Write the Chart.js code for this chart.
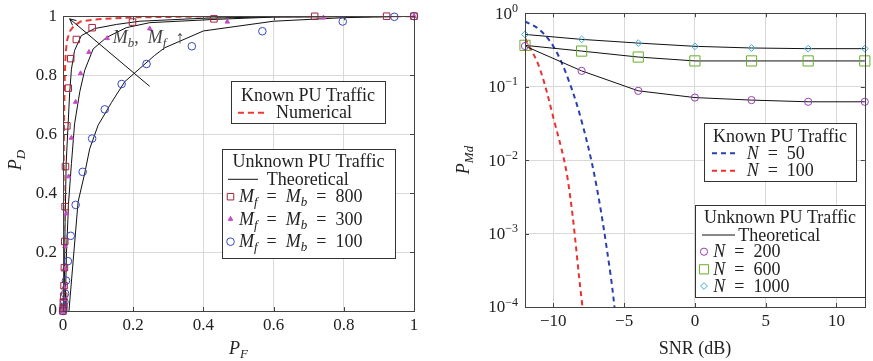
<!DOCTYPE html>
<html>
<head>
<meta charset="utf-8">
<script src="https://cdn.jsdelivr.net/npm/chart.js@4.4.1/dist/chart.umd.min.js"></script>
<style>
  body { margin: 0; background: #fff; }
  canvas { position: absolute; top: 0; }
  #roc { left: 0; }
  #pmd { left: 430px; }
</style>
</head>
<body>
<canvas id="roc" width="430" height="361"></canvas>
<canvas id="pmd" width="443" height="361"></canvas>
<script>
// ---- left: ROC, P_D vs P_F ----
const rocTicks = [0, 0.2, 0.4, 0.6, 0.8, 1];
const rocTickLabels = ['0', '0.2', '0.4', '0.6', '0.8', '1'];

// known PU traffic, numerical
const numPF = [0, 0.001, 0.002, 0.003, 0.005, 0.008, 0.012, 0.02, 0.03, 0.05, 0.1, 0.2, 0.4, 0.7, 1];
const numPD = [0, 0.25, 0.5, 0.65, 0.8, 0.88, 0.92, 0.95, 0.965, 0.982, 0.99, 0.996, 0.999, 1, 1];

// unknown PU traffic, theoretical
const th800PF = [0.003, 0.006, 0.009, 0.014, 0.019, 0.024, 0.033, 0.052, 0.09, 0.152, 0.219, 0.4, 0.6, 1];
const th800PD = [0, 0.3, 0.5, 0.62, 0.74, 0.82, 0.884, 0.934, 0.958, 0.972, 0.983, 0.993, 0.998, 1];
const th300PF = [0.006, 0.01, 0.016, 0.024, 0.033, 0.048, 0.062, 0.086, 0.124, 0.18, 0.247, 0.43, 0.6, 1];
const th300PD = [0, 0.2, 0.37, 0.5, 0.635, 0.745, 0.817, 0.889, 0.928, 0.961, 0.978, 0.989, 0.997, 1];
const th100PF = [0.017, 0.043, 0.062, 0.076, 0.1, 0.138, 0.176, 0.219, 0.261, 0.29, 0.4, 0.6, 0.8, 1];
const th100PD = [0, 0.37, 0.468, 0.55, 0.63, 0.707, 0.778, 0.823, 0.867, 0.893, 0.95, 0.983, 0.995, 1];

// unknown PU traffic, simulated
const sim800PF = [0, 0.001, 0.001, 0.002, 0.003, 0.004, 0.005, 0.006, 0.007, 0.011, 0.015, 0.022, 0.038, 0.083, 0.198, 0.43, 0.717, 0.922, 1];
const sim800PD = [0, 0.01, 0.03, 0.05, 0.086, 0.147, 0.236, 0.354, 0.49, 0.628, 0.756, 0.856, 0.921, 0.961, 0.98, 0.991, 0.9997, 1, 1];
const sim300PF = [0, 0.001, 0.002, 0.003, 0.004, 0.0057, 0.0095, 0.016, 0.024, 0.036, 0.05, 0.074, 0.126, 0.247, 0.468, 0.742, 1];
const sim300PD = [0, 0.01, 0.04, 0.08, 0.143, 0.219, 0.33, 0.456, 0.587, 0.709, 0.806, 0.878, 0.925, 0.958, 0.981, 0.995, 1];
const sim100PF = [0, 0.001, 0.002, 0.004, 0.006, 0.0086, 0.014, 0.022, 0.036, 0.056, 0.083, 0.119, 0.167, 0.238, 0.367, 0.568, 0.797, 0.944, 1];
const sim100PD = [0, 0.005, 0.015, 0.031, 0.059, 0.103, 0.169, 0.255, 0.36, 0.472, 0.585, 0.684, 0.77, 0.838, 0.898, 0.949, 0.982, 0.998, 1];

// ---- right: P_Md vs SNR ----
const snrTicks = [-10, -5, 0, 5, 10];
const snrTickLabels = ['\u221210', '\u22125', '0', '5', '10'];
const pmdTicks = [1e-4, 1e-3, 1e-2, 1e-1, 1];
const pmdTickExp = ['\u22124', '\u22123', '\u22122', '\u22121', '0'];

// known PU traffic
const snr50 = [-12, -11, -10, -9, -8, -7, -6, -5.5];
const known50 = [0.776, 0.603, 0.355, 0.135, 0.0339, 0.005, 3.16e-4, 5.0e-5];
const snr100 = [-12, -11, -10, -9, -8, -7.5];
const known100 = [0.46, 0.186, 0.038, 0.00575, 1.26e-4, 2.0e-5];

// unknown PU traffic
const snrSim = [-12, -8, -4, 0, 4, 8, 12];
const pmd200 = [0.357, 0.164, 0.0877, 0.071, 0.0656, 0.0622, 0.0622];
const pmd600 = [0.365, 0.305, 0.253, 0.224, 0.224, 0.224, 0.224];
const pmd1000 = [0.514, 0.44, 0.392, 0.354, 0.336, 0.329, 0.329];

const SERIF = '"Liberation Serif", "DejaVu Serif", serif';
const FS = 18;      // legends, titles
const TFS = 17;     // tick labels
const INK = '#222';
const AXIS = '#444';
const GRID = '#d9d9d9';
const EQ = '\u2002=\u2002';

const pts = (xs, ys) => xs.map((x, i) => ({ x: x, y: ys[i] }));
const font = (size, italic) => (italic ? 'italic ' : '') + size + 'px ' + SERIF;

// parts: [text, style] ; style: 'r' roman, 'i' italic, 's' italic subscript, 'p' superscript
function partFont(style, fs) {
    if (style === 's' || style === 'p') return font(Math.round(fs * 0.7), style === 's');
    return font(fs, style === 'i');
}
function mathWidth(ctx, parts, fs) {
    let w = 0;
    parts.forEach(p => { ctx.font = partFont(p[1], fs); w += ctx.measureText(p[0]).width; });
    return w;
}
function drawMath(ctx, parts, x, cy, align, fs) {
    fs = fs || FS;
    const w = mathWidth(ctx, parts, fs);
    if (align === 'center') x -= w / 2;
    if (align === 'right') x -= w;
    const base = cy + fs * 0.32;
    ctx.textBaseline = 'alphabetic';
    ctx.textAlign = 'left';
    parts.forEach(p => {
        ctx.font = partFont(p[1], fs);
        let dy = 0;
        if (p[1] === 's') dy = fs * 0.22;
        if (p[1] === 'p') dy = -fs * 0.4;
        ctx.fillText(p[0], x, base + dy);
        x += ctx.measureText(p[0]).width;
    });
}

// box + inner ticks, the way pgfplots frames its axes
const framePlugin = {
    id: 'frame',
    afterDatasetsDraw(chart) {
        const ctx = chart.ctx, a = chart.chartArea;
        ctx.save();
        ctx.strokeStyle = AXIS;
        ctx.lineWidth = 1;
        ctx.beginPath();
        chart.scales.x.ticks.forEach(t => {
            const px = Math.round(chart.scales.x.getPixelForValue(t.value)) + 0.5;
            ctx.moveTo(px, a.bottom); ctx.lineTo(px, a.bottom - 4);
            ctx.moveTo(px, a.top); ctx.lineTo(px, a.top + 4);
        });
        chart.scales.y.ticks.forEach(t => {
            const py = Math.round(chart.scales.y.getPixelForValue(t.value)) + 0.5;
            ctx.moveTo(a.left, py); ctx.lineTo(a.left + 4, py);
            ctx.moveTo(a.right, py); ctx.lineTo(a.right - 4, py);
        });
        ctx.stroke();
        ctx.strokeRect(Math.round(a.left) + 0.5, Math.round(a.top) + 0.5,
            Math.round(a.right - a.left), Math.round(a.bottom - a.top));
        ctx.restore();
    }
};

function drawLegendBox(ctx, box) {
    ctx.fillStyle = '#fff';
    ctx.fillRect(box.x, box.y, box.w, box.h);
    ctx.strokeStyle = '#333';
    ctx.lineWidth = 1;
    ctx.strokeRect(box.x + 0.5, box.y + 0.5, box.w, box.h);
}
function legendLine(ctx, x1, x2, y, color, dash, width) {
    ctx.save();
    ctx.strokeStyle = color;
    ctx.lineWidth = width;
    ctx.setLineDash(dash);
    ctx.beginPath();
    ctx.moveTo(x1, y); ctx.lineTo(x2, y);
    ctx.stroke();
    ctx.restore();
}
function legendMarker(ctx, ds, x, y) {
    Chart.helpers.drawPoint(ctx, {
        pointStyle: ds.pointStyle, radius: ds.pointRadius, rotation: 0,
        borderWidth: ds.pointBorderWidth || 1
    }, x, y);
}
function markerStyle(ctx, ds) {
    ctx.strokeStyle = ds.pointBorderColor || ds.borderColor;
    ctx.fillStyle = ds.pointBackgroundColor || ds.backgroundColor;
    ctx.lineWidth = 1;
}

// ---------- left chart ----------
const rocSets = [
    { label: '800', data: pts(sim800PF, sim800PD), showLine: false, pointStyle: 'rect', pointRadius: 4.6,
      borderColor: '#a3223d', backgroundColor: 'rgba(0,0,0,0)', borderWidth: 1, clip: false },
    { label: '300', data: pts(sim300PF, sim300PD), showLine: false, pointStyle: 'triangle', pointRadius: 2.6,
      borderColor: '#c44cc4', backgroundColor: '#c44cc4', borderWidth: 1, clip: false },
    { label: '100', data: pts(sim100PF, sim100PD), showLine: false, pointStyle: 'circle', pointRadius: 3.8,
      borderColor: '#3447c2', backgroundColor: 'rgba(0,0,0,0)', borderWidth: 1, clip: false },
    { label: 'th800', data: pts(th800PF, th800PD), showLine: true, pointRadius: 0, borderColor: '#111', borderWidth: 1 },
    { label: 'th300', data: pts(th300PF, th300PD), showLine: true, pointRadius: 0, borderColor: '#111', borderWidth: 1 },
    { label: 'th100', data: pts(th100PF, th100PD), showLine: true, pointRadius: 0, borderColor: '#111', borderWidth: 1 },
    { label: 'Numerical', data: pts(numPF, numPD), showLine: true, pointRadius: 0, borderColor: '#ec3a32',
      borderWidth: 2, borderDash: [6, 4] }
];

const rocDecor = {
    id: 'rocDecor',
    afterDatasetsDraw(chart) {
        const ctx = chart.ctx, x = chart.scales.x, y = chart.scales.y;
        ctx.save();
        // arrow  M_b, M_f increasing
        const x0 = x.getPixelForValue(0.247), y0 = y.getPixelForValue(0.762);
        const x1 = x.getPixelForValue(0.019), y1 = y.getPixelForValue(0.991);
        ctx.strokeStyle = '#111';
        ctx.lineWidth = 1;
        ctx.beginPath();
        ctx.moveTo(x0, y0); ctx.lineTo(x1, y1);
        const ang = Math.atan2(y1 - y0, x1 - x0);
        [-0.45, 0.45].forEach(d => {
            ctx.moveTo(x1, y1);
            ctx.lineTo(x1 - 7 * Math.cos(ang + d), y1 - 7 * Math.sin(ang + d));
        });
        ctx.stroke();
        ctx.fillStyle = '#444';
        drawMath(ctx, [['M', 'i'], ['b', 's'], [',\u2002', 'r'], ['M', 'i'], ['f', 's'], ['\u2002\u2191', 'r']],
            x.getPixelForValue(0.142), y.getPixelForValue(0.93), 'left');

        // legends
        drawLegendBox(ctx, { x: 231, y: 81, w: 154, h: 42 });
        ctx.fillStyle = INK;
        drawMath(ctx, [['Known PU Traffic', 'r']], 308, 95, 'center');
        legendLine(ctx, 238, 265, 112.7, '#ec3a32', [6, 4], 2);
        ctx.fillStyle = INK;
        drawMath(ctx, [['Numerical', 'r']], 276, 112.7, 'left');

        drawLegendBox(ctx, { x: 222, y: 149, w: 173, h: 109 });
        ctx.fillStyle = INK;
        drawMath(ctx, [['Unknown PU Traffic', 'r']], 308.5, 161.7, 'center');
        legendLine(ctx, 228, 258, 179.3, '#111', [], 1);
        drawMath(ctx, [['Theoretical', 'r']], 266.7, 179.3, 'left');
        const rows = [[0, '800', 196.7], [1, '300', 219], [2, '100', 241.7]];
        rows.forEach(r => {
            const ds = rocSets[r[0]];
            markerStyle(ctx, ds);
            legendMarker(ctx, ds, 230.5, r[2]);
            ctx.fillStyle = INK;
            drawMath(ctx, [['M', 'i'], ['f', 's'], [EQ, 'r'], ['M', 'i'], ['b', 's'], [EQ + r[1], 'r']],
                239, r[2], 'left');
        });

        // axis titles
        drawMath(ctx, [['P', 'i'], ['F', 's']], 238.5, 348, 'center');
        ctx.translate(15, 160);
        ctx.rotate(-Math.PI / 2);
        drawMath(ctx, [['P', 'i'], ['D', 's']], 0, 0, 'center');
        ctx.restore();
    }
};

new Chart(document.getElementById('roc'), {
    type: 'scatter',
    data: { datasets: rocSets },
    options: {
        responsive: false,
        animation: false,
        layout: { padding: { top: 10, right: 16, left: 0, bottom: 0 } },
        plugins: { legend: { display: false }, tooltip: { enabled: false } },
        scales: {
            x: {
                type: 'linear', min: 0, max: 1,
                afterBuildTicks: s => { s.ticks = rocTicks.map(v => ({ value: v })); },
                afterFit: s => { s.height = 50; },
                ticks: { callback: (v, i) => rocTickLabels[i], font: { family: SERIF, size: TFS }, color: INK, padding: 4, maxRotation: 0 },
                grid: { color: GRID, drawTicks: false },
                border: { display: false }
            },
            y: {
                type: 'linear', min: 0, max: 1,
                afterBuildTicks: s => { s.ticks = rocTicks.map(v => ({ value: v })); },
                afterFit: s => { s.width = 63; },
                ticks: { callback: (v, i) => rocTickLabels[i], font: { family: SERIF, size: TFS }, color: INK, padding: 6 },
                grid: { color: GRID, drawTicks: false },
                border: { display: false }
            }
        }
    },
    plugins: [framePlugin, rocDecor]
});

// ---------- right chart ----------
const pmdSets = [
    { label: 'N=200', data: pts(snrSim, pmd200), showLine: true, borderColor: '#111', borderWidth: 1,
      pointStyle: 'circle', pointRadius: 3.6, pointBorderColor: '#9a3db3', pointBackgroundColor: 'rgba(0,0,0,0)', clip: false },
    { label: 'N=600', data: pts(snrSim, pmd600), showLine: true, borderColor: '#111', borderWidth: 1,
      pointStyle: 'rect', pointRadius: 7.2, pointBorderColor: '#6aac2c', pointBackgroundColor: 'rgba(0,0,0,0)', clip: false },
    { label: 'N=1000', data: pts(snrSim, pmd1000), showLine: true, borderColor: '#111', borderWidth: 1,
      pointStyle: 'rectRot', pointRadius: 3.4, pointBorderColor: '#3cb1e2', pointBackgroundColor: 'rgba(0,0,0,0)', clip: false },
    { label: 'N=50', data: pts(snr50, known50), showLine: true, pointRadius: 0, borderColor: '#2a3fb0',
      borderWidth: 2, borderDash: [5, 4], tension: 0.35 },
    { label: 'N=100', data: pts(snr100, known100), showLine: true, pointRadius: 0, borderColor: '#ec3030',
      borderWidth: 2, borderDash: [5, 4], tension: 0.35 }
];

const pmdDecor = {
    id: 'pmdDecor',
    afterDatasetsDraw(chart) {
        const ctx = chart.ctx, y = chart.scales.y, a = chart.chartArea;
        ctx.save();
        ctx.fillStyle = INK;
        // log tick labels 10^k
        pmdTicks.forEach((v, i) => {
            drawMath(ctx, [['10', 'r'], [pmdTickExp[i], 'p']], a.left - 7, y.getPixelForValue(v), 'right', TFS);
        });

        drawLegendBox(ctx, { x: 274, y: 123, w: 152, h: 58 });
        ctx.fillStyle = INK;
        drawMath(ctx, [['Known PU Traffic', 'r']], 350, 136.7, 'center');
        [[3, '50', 153.3], [4, '100', 170.7]].forEach(r => {
            const ds = pmdSets[r[0]];
            legendLine(ctx, 282, 308, r[2], ds.borderColor, [5, 4], 2);
            ctx.fillStyle = INK;
            drawMath(ctx, [['N', 'i'], [EQ + r[1], 'r']], 316.7, r[2], 'left');
        });

        drawLegendBox(ctx, { x: 265, y: 205, w: 170, h: 92 });
        ctx.fillStyle = INK;
        drawMath(ctx, [['Unknown PU Traffic', 'r']], 350, 217.7, 'center');
        legendLine(ctx, 272, 305, 235, '#111', [], 1);
        drawMath(ctx, [['Theoretical', 'r']], 308.3, 235, 'left');
        [[0, '200', 251.7], [1, '600', 269.3], [2, '1000', 286]].forEach(r => {
            const ds = pmdSets[r[0]];
            markerStyle(ctx, ds);
            legendMarker(ctx, Object.assign({}, ds, { pointRadius: r[0] === 1 ? 6.5 : ds.pointRadius }), 274, r[2]);
            ctx.fillStyle = INK;
            drawMath(ctx, [['N', 'i'], [EQ + r[1], 'r']], 283.3, r[2], 'left');
        });

        // axis titles
        drawMath(ctx, [['SNR (dB)', 'r']], (a.left + a.right) / 2, 348, 'center');
        ctx.translate(33, 160);
        ctx.rotate(-Math.PI / 2);
        drawMath(ctx, [['P', 'i'], ['Md', 's']], 0, 0, 'center');
        ctx.restore();
    }
};

new Chart(document.getElementById('pmd'), {
    type: 'scatter',
    data: { datasets: pmdSets },
    options: {
        responsive: false,
        animation: false,
        layout: { padding: { top: 12, right: 4, left: 0, bottom: 0 } },
        plugins: { legend: { display: false }, tooltip: { enabled: false } },
        scales: {
            x: {
                type: 'linear', min: -12, max: 12,
                afterBuildTicks: s => { s.ticks = snrTicks.map(v => ({ value: v })); },
                afterFit: s => { s.height = 54; },
                ticks: { callback: (v, i) => snrTickLabels[i], font: { family: SERIF, size: TFS }, color: INK, padding: 4, maxRotation: 0 },
                grid: { color: GRID, drawTicks: false },
                border: { display: false }
            },
            y: {
                type: 'logarithmic', min: 1e-4, max: 1,
                afterBuildTicks: s => { s.ticks = pmdTicks.map(v => ({ value: v })); },
                afterFit: s => { s.width = 95; },
                ticks: { callback: () => '', font: { family: SERIF, size: TFS } },
                grid: { color: GRID, drawTicks: false },
                border: { display: false }
            }
        }
    },
    plugins: [framePlugin, pmdDecor]
});
</script>
</body>
</html>
